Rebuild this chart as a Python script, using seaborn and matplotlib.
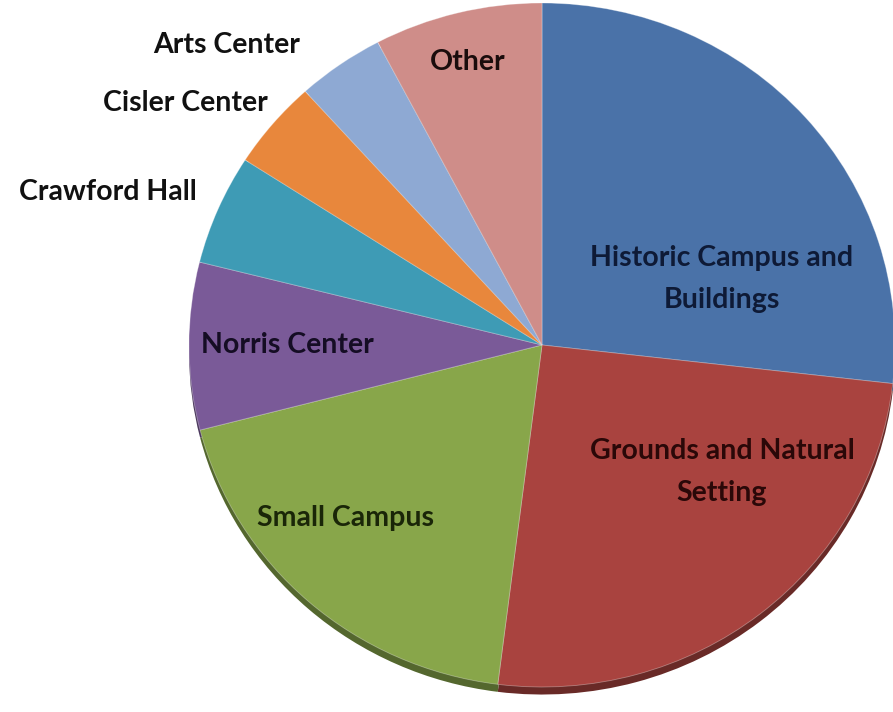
import matplotlib
matplotlib.use("Agg")
import matplotlib.pyplot as plt
import matplotlib.colors as mcolors
import seaborn as sns

# Slice data, clockwise from 12 o'clock
categories = [
    "Historic Campus and\nBuildings",
    "Grounds and Natural\nSetting",
    "Small Campus",
    "Norris Center",
    "Crawford Hall",
    "Cisler Center",
    "Arts Center",
    "Other",
]
values = [26.8, 25.2, 19.0, 7.9, 5.2, 4.2, 4.0, 7.7]
slice_colors = ["#4a72a8", "#a9433f", "#88a64a", "#7a5a98",
                "#3e9bb5", "#e8873c", "#8ea9d3", "#cf8d89"]
text_colors = ["#0e1a36", "#2a0808", "#1a2608", "#150d24",
               "#111111", "#111111", "#111111", "#1a0c0c"]

# label anchor (x, y, ha) in pie data units
label_pos = [
    (0.51, 0.193, "center"),
    (0.51, -0.371, "center"),
    (-0.558, -0.506, "center"),
    (-0.72, 0.0, "center"),
    (-0.977, 0.447, "right"),
    (-0.776, 0.708, "right"),
    (-0.686, 0.877, "right"),
    (-0.21, 0.827, "center"),
]

sns.set_theme(style="white")
plt.rcParams["font.family"] = ["Lato", "DejaVu Sans"]

palette = sns.color_palette(slice_colors)
shadow = [tuple(c * 0.62 for c in mcolors.to_rgb(col)) for col in palette]

fig = plt.figure(figsize=(8.93, 7.12), dpi=100)
fig.patch.set_facecolor("white")
# axes sized so that the pie is slightly elliptical and runs off the right edge
ax = fig.add_axes([189 / 893, 25 / 712, 706 / 893, 684 / 712])

# depth shadow (3D look)
ax.pie(values, colors=shadow, startangle=90, counterclock=False,
       radius=1.0, center=(0.0, -0.022),
       wedgeprops=dict(linewidth=0))
ax.pie(values, colors=palette, startangle=90, counterclock=False,
       radius=1.0, center=(0.0, 0.0),
       wedgeprops=dict(linewidth=0.6, edgecolor=(1, 1, 1, 0.35)))

ax.set_aspect("auto")
ax.set_xlim(-1, 1)
ax.set_ylim(-1, 1)
ax.axis("off")

for lab, (x, y, ha), tc in zip(categories, label_pos, text_colors):
    ax.text(x, y, lab, ha=ha, va="center", fontsize=20.5, fontweight="bold",
            color=tc, linespacing=1.75)

fig.savefig("out.png", dpi=100)
